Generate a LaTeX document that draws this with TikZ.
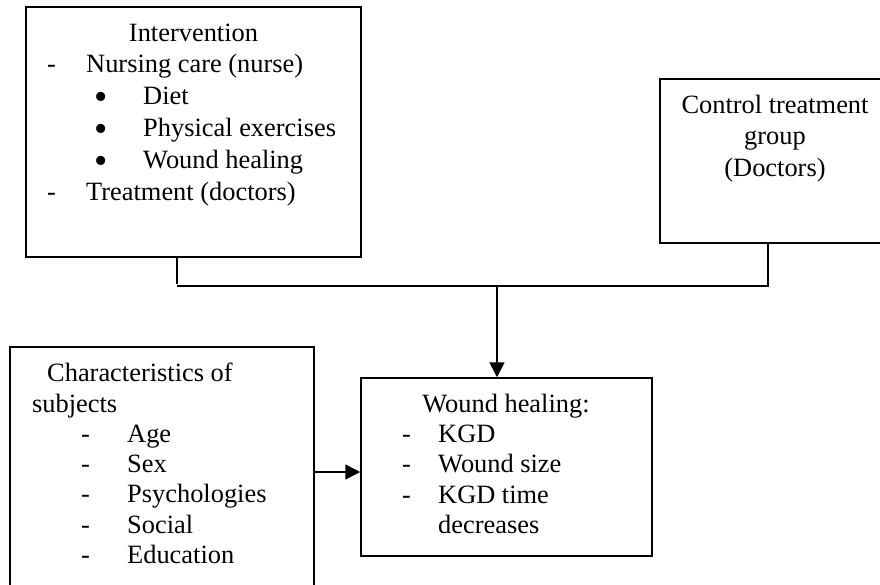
\documentclass[tikz,border=0pt]{standalone}
\usepackage{fontspec}
\setmainfont{Liberation Serif}
\usetikzlibrary{arrows.meta}
\begin{document}
\begin{tikzpicture}[x=1pt,y=-1pt,
  box/.style={draw, line width=1.5pt, inner sep=0pt, rectangle},
  tl/.style={anchor=base west, inner sep=0pt, font=\fontsize{26.4}{30}\selectfont},
  tc/.style={anchor=base, inner sep=0pt, font=\fontsize{26.4}{30}\selectfont},
  bul/.style={anchor=base, inner sep=0pt, text height=18pt, text depth=0pt, font=\fontsize{38}{40}\selectfont},
  conn/.style={line width=1.4pt},
  arr/.style={line width=1.6pt, -{Triangle[length=15pt,width=15pt]}}]
\useasboundingbox (0,0) rectangle (880,584);
% boxes
\node[box, minimum width=335pt, minimum height=250pt] (int) at (193.5,132) {};
\node[box, minimum width=232pt, minimum height=164pt] (ctrl) at (776,161) {};
\node[box, minimum width=304pt, minimum height=253pt] (chars) at (162,473.5) {};
\node[box, minimum width=291pt, minimum height=178pt] (wound) at (506.5,467) {};
% intervention text
\node[tc] (i0) at (193.5,41) {Intervention};
\node[tl] (i1d) at (47,72) {-};
\node[tl] (i1) at (86,72) {Nursing care (nurse)};
\node[bul] (b2) at (101,109) {•};
\node[tl] (i2) at (143,104) {Diet};
\node[bul] (b3) at (101,141) {•};
\node[tl] (i3) at (143,136) {Physical exercises};
\node[bul] (b4) at (101,173) {•};
\node[tl] (i4) at (143,168) {Wound healing};
\node[tl] (i5d) at (47,200) {-};
\node[tl] (i5) at (86,200) {Treatment (doctors)};
% control text
\node[tc] (c1) at (775,113) {Control treatment};
\node[tc] (c2) at (775,144.5) {group};
\node[tc] (c3) at (775,176) {(Doctors)};
% characteristics text
\node[tl] (s1) at (47,381) {Characteristics of};
\node[tl] (s2) at (32,412) {subjects};
\node[tl] (s3d) at (81,442) {-};
\node[tl] (s3) at (127,442) {Age};
\node[tl] (s4d) at (81,472) {-};
\node[tl] (s4) at (127,472) {Sex};
\node[tl] (s5d) at (81,502) {-};
\node[tl] (s5) at (127,502) {Psychologies};
\node[tl] (s6d) at (81,533) {-};
\node[tl] (s6) at (127,533) {Social};
\node[tl] (s7d) at (81,563) {-};
\node[tl] (s7) at (127,563) {Education};
% wound text
\node[tc] (w0) at (506,412) {Wound healing:};
\node[tl] (w1d) at (402,442) {-};
\node[tl] (w1) at (438,442) {KGD};
\node[tl] (w2d) at (402,472) {-};
\node[tl] (w2) at (438,472) {Wound size};
\node[tl] (w3d) at (402,503) {-};
\node[tl] (w3) at (438,503) {KGD time};
\node[tl] (w4) at (438,533) {decreases};
% connectors
\coordinate (jl) at (177,286);
\coordinate (jr) at (768,286);
\coordinate (jm) at (497,286);
\coordinate (ay) at (0,472);
\draw[conn] (int.south -| jl) -- ([yshift=2pt]jl);
\draw[conn] (jl) -- (jr) -- (ctrl.south -| jr);
\draw[arr] (jm) -- (wound.north -| jm);
\draw[arr] (chars.east |- ay) -- (wound.west |- ay);
\end{tikzpicture}
\end{document}
